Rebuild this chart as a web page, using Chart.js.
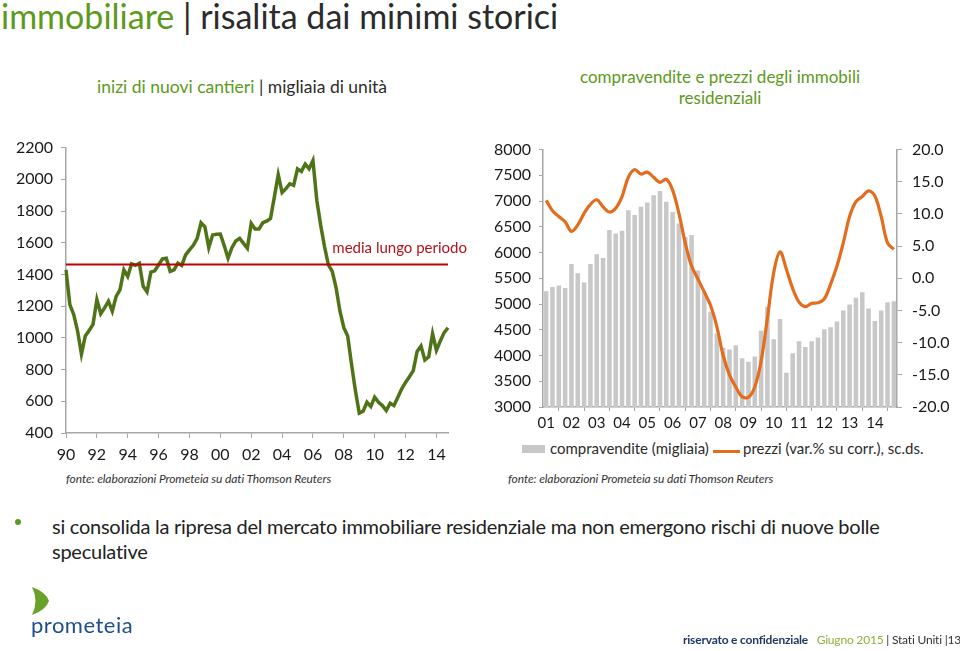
<!DOCTYPE html>
<html>
<head>
<meta charset="utf-8">
<script src="https://cdn.jsdelivr.net/npm/chart.js@4.4.0/dist/chart.umd.min.js"></script>
<style>
  body { margin: 0; background: #fff; font-family: Lato, "Noto Sans", sans-serif; }
  #page { position: relative; width: 960px; height: 651px; overflow: hidden; }
  .abs { position: absolute; white-space: nowrap; }
  .green { color: #5c9a1b; }
  .dark { color: #2b2b2b; }
  .fonte { font-style: italic; font-size: 12px; color: #333; letter-spacing: -0.1px; }
</style>
</head>
<body>
<div id="page">
  <div class="abs" style="left:1px;top:-5px;font-size:34px;">
    <span class="green">immobiliare</span><span class="dark"> | risalita dai minimi storici</span>
  </div>

  <div class="abs" style="left:97px;top:76px;font-size:17.5px;">
    <span class="green">inizi di nuovi cantieri</span><span class="dark"> | migliaia di unità</span>
  </div>
  <div class="abs green" style="left:560px;top:66px;width:320px;text-align:center;white-space:normal;font-size:17px;line-height:21px;">
    compravendite e prezzi degli immobili<br>residenziali
  </div>

  <canvas id="leftChart" class="abs" style="left:0;top:130px;" width="480" height="340"></canvas>
  <canvas id="rightChart" class="abs" style="left:480px;top:130px;" width="480" height="300"></canvas>

  <!-- legenda del grafico di destra -->
  <div class="abs" style="left:522px;top:445px;width:23px;height:8px;background:#c8c8c8;"></div>
  <div class="abs dark" style="left:550px;top:439px;font-size:15px;">compravendite (migliaia)</div>
  <div class="abs" style="left:713px;top:450px;width:27px;height:3px;background:#e36c1d;"></div>
  <div class="abs dark" style="left:743px;top:439px;font-size:15px;">prezzi (var.% su corr.), sc.ds.</div>

  <div class="abs fonte" style="left:66px;top:471px;">fonte: elaborazioni Prometeia su dati Thomson Reuters</div>
  <div class="abs fonte" style="left:508px;top:471px;">fonte: elaborazioni Prometeia su dati Thomson Reuters</div>

  <div class="abs" style="left:15px;top:519px;width:6px;height:6px;border-radius:50%;background:#5c9a1b;"></div>
  <div class="abs dark" style="left:52px;top:514px;font-size:20px;line-height:25px;white-space:normal;width:900px;color:#222;letter-spacing:-0.25px;">
    si consolida la ripresa del mercato immobiliare residenziale ma non emergono rischi di nuove bolle<br>speculative
  </div>

  <svg class="abs" style="left:0;top:0;" width="960" height="651">
    <path d="M32,587 Q46,592 49,601 Q46,610 32,615 Q39,601 32,587 Z" fill="#6aa12b"/>
  </svg>
  <div class="abs" style="left:31px;top:611px;font-size:22px;color:#1f4e8c;letter-spacing:0.5px;">prometeia</div>

  <div class="abs" style="left:683px;top:632px;font-size:12px;letter-spacing:-0.2px;">
    <span style="color:#1f3864;font-weight:bold;">riservato e confidenziale</span>
    <span style="color:#8db03a;">&nbsp;&nbsp;Giugno 2015</span>
    <span style="color:#333;"> | Stati Uniti |13</span>
  </div>
</div>

<script>
// inizi di nuovi cantieri, trimestrale 1990Q1 - 2014Q4 (migliaia di unità)
const startYear = 1990;
const starts = [
  1429, 1210, 1148, 1043, 897, 1012, 1047, 1085, 1241, 1152,
  1189, 1231, 1168, 1262, 1304, 1429, 1388, 1467, 1457, 1471,
  1325, 1290, 1415, 1423, 1461, 1498, 1502, 1419, 1429, 1471,
  1457, 1523, 1555, 1584, 1628, 1726, 1701, 1569, 1649, 1653,
  1655, 1582, 1502, 1569, 1611, 1628, 1596, 1565, 1722, 1686,
  1686, 1726, 1736, 1753, 1889, 2029, 1917, 1941, 1972, 1962,
  2066, 2050, 2096, 2066, 2118, 1868, 1711, 1576, 1461, 1419,
  1315, 1168, 1064, 1012, 834, 667, 525, 538, 594, 567,
  626, 594, 573, 542, 588, 573, 626, 678, 719, 755,
  793, 914, 949, 861, 880, 1026, 922, 980, 1033, 1064
];
const mediaLungoPeriodo = 1462;

// compravendite (migliaia) e prezzi (var.%), trimestrale 2001Q1 - 2014Q4
const salesStartYear = 2001;
const sales = [
  5250, 5330, 5360, 5310, 5780, 5600, 5420, 5780, 5965, 5895,
  6440, 6370, 6425, 6820, 6730, 6890, 6970, 7115, 7195, 6985,
  6790, 6565, 6300, 6340, 5650, 5230, 4850, 4430, 4150, 4115,
  4200, 3945, 3880, 3980, 4480, 4945, 4315, 4710, 3665, 4045,
  4275, 4165, 4275, 4350, 4510, 4550, 4660, 4875, 4990, 5120,
  5230, 4915, 4670, 4875, 5035, 5055
];
const prices = [
  12.1, 10.5, 9.6, 8.8, 7.3, 8.3, 10.1, 11.5, 12.2, 11.1,
  10.3, 10.9, 12.7, 15.7, 16.9, 16.2, 16.5, 15.7, 14.9, 15.4,
  13.7, 10.1, 5.5, 1.9, -0.1, -2.1, -4.2, -7.5, -12.0, -15.0,
  -16.9, -18.4, -18.5, -16.9, -12.9, -6.2, 0.9, 4.1, 1.4, -1.6,
  -3.7, -4.4, -3.9, -3.8, -3.2, -0.9, 1.9, 5.5, 9.6, 11.9,
  12.7, 13.6, 12.8, 9.6, 5.5, 4.5
];

const quarterLabels = (y0, n) => Array.from({ length: n }, (_, i) => (y0 + Math.floor(i / 4)) + "Q" + (i % 4 + 1));
const startLabels = quarterLabels(startYear, starts.length);
const salesLabels = quarterLabels(salesStartYear, sales.length);

const FONT = "Lato, 'Noto Sans', sans-serif";
const AXIS = "#a6a6a6";
const TEXT = "#1a1a1a";
Chart.defaults.font.family = FONT;
Chart.defaults.color = TEXT;

// etichetta "media lungo periodo" sopra la linea rossa
const mediaLabel = {
  id: "mediaLabel",
  afterDatasetsDraw(chart) {
    const { ctx, scales } = chart;
    ctx.save();
    ctx.font = "15px " + FONT;
    ctx.fillStyle = "#b5121b";
    ctx.textAlign = "right";
    ctx.textBaseline = "bottom";
    ctx.fillText("media lungo periodo", chart.chartArea.right + 19, scales.y.getPixelForValue(mediaLungoPeriodo) - 9);
    ctx.restore();
  }
};

new Chart(document.getElementById("leftChart"), {
  type: "line",
  data: {
    labels: startLabels,
    datasets: [
      {
        label: "media lungo periodo",
        data: startLabels.map(() => mediaLungoPeriodo),
        borderColor: "#c00000",
        borderWidth: 2,
        pointRadius: 0
      },
      {
        label: "inizi di nuovi cantieri",
        data: starts,
        borderColor: "#4f7317",
        borderWidth: 3.5,
        pointRadius: 0,
        tension: 0
      }
    ]
  },
  options: {
    responsive: false,
    animation: false,
    layout: { padding: { top: 15, right: 32, left: 0, bottom: 0 } },
    plugins: { legend: { display: false }, tooltip: { enabled: false } },
    scales: {
      x: {
        afterFit: s => { s.height = 37; },
        border: { color: AXIS, width: 1.5 },
        grid: { drawOnChartArea: false, color: AXIS, tickLength: 5 },
        ticks: {
          autoSkip: false,
          maxRotation: 0,
          padding: 7,
          font: { size: 16 },
          callback: function (v, i) {
            const lab = startLabels[i];
            const yr = parseInt(lab);
            return (lab.endsWith("Q1") && yr % 2 === 0) ? String(yr).slice(2) : null;
          }
        }
      },
      y: {
        min: 400,
        max: 2200,
        afterFit: s => { s.width = 66; },
        border: { color: AXIS, width: 1.5 },
        grid: { drawOnChartArea: false, color: AXIS, tickLength: 5 },
        ticks: { stepSize: 200, padding: 8, font: { size: 16 }, callback: v => String(v) }
      }
    }
  },
  plugins: [mediaLabel]
});

new Chart(document.getElementById("rightChart"), {
  type: "bar",
  data: {
    labels: salesLabels,
    datasets: [
      {
        type: "line",
        label: "prezzi (var.% su corr.), sc.ds.",
        data: prices,
        yAxisID: "y1",
        borderColor: "#e36c1d",
        borderWidth: 3.2,
        pointRadius: 0,
        tension: 0.35,
        order: 0
      },
      {
        label: "compravendite (migliaia)",
        data: sales,
        yAxisID: "y",
        backgroundColor: "#c8c8c8",
        barPercentage: 0.72,
        categoryPercentage: 1,
        order: 1
      }
    ]
  },
  options: {
    responsive: false,
    animation: false,
    layout: { padding: { top: 15, right: 0, left: 0, bottom: 0 } },
    plugins: { legend: { display: false }, tooltip: { enabled: false } },
    scales: {
      x: {
        afterFit: s => { s.height = 23; },
        border: { color: AXIS, width: 1.5 },
        grid: { drawOnChartArea: false, color: AXIS, tickLength: 4, offset: true },
        ticks: {
          autoSkip: false,
          maxRotation: 0,
          padding: 3,
          font: { size: 15 },
          callback: function (v, i) {
            const lab = salesLabels[i];
            return lab.endsWith("Q1") ? lab.slice(2, 4) : null;
          }
        }
      },
      y: {
        position: "left",
        min: 3000,
        max: 8000,
        afterFit: s => { s.width = 63; },
        border: { color: AXIS, width: 1.5 },
        grid: { drawOnChartArea: false, color: AXIS, tickLength: 4 },
        ticks: { stepSize: 500, padding: 8, font: { size: 16 }, callback: v => String(v) }
      },
      y1: {
        position: "right",
        min: -20,
        max: 20,
        afterFit: s => { s.width = 63; },
        border: { color: AXIS, width: 1.5 },
        grid: { drawOnChartArea: false, color: AXIS, tickLength: 5 },
        ticks: { stepSize: 5, padding: 10, font: { size: 16 }, callback: v => v.toFixed(1) }
      }
    }
  }
});
</script>
</body>
</html>
